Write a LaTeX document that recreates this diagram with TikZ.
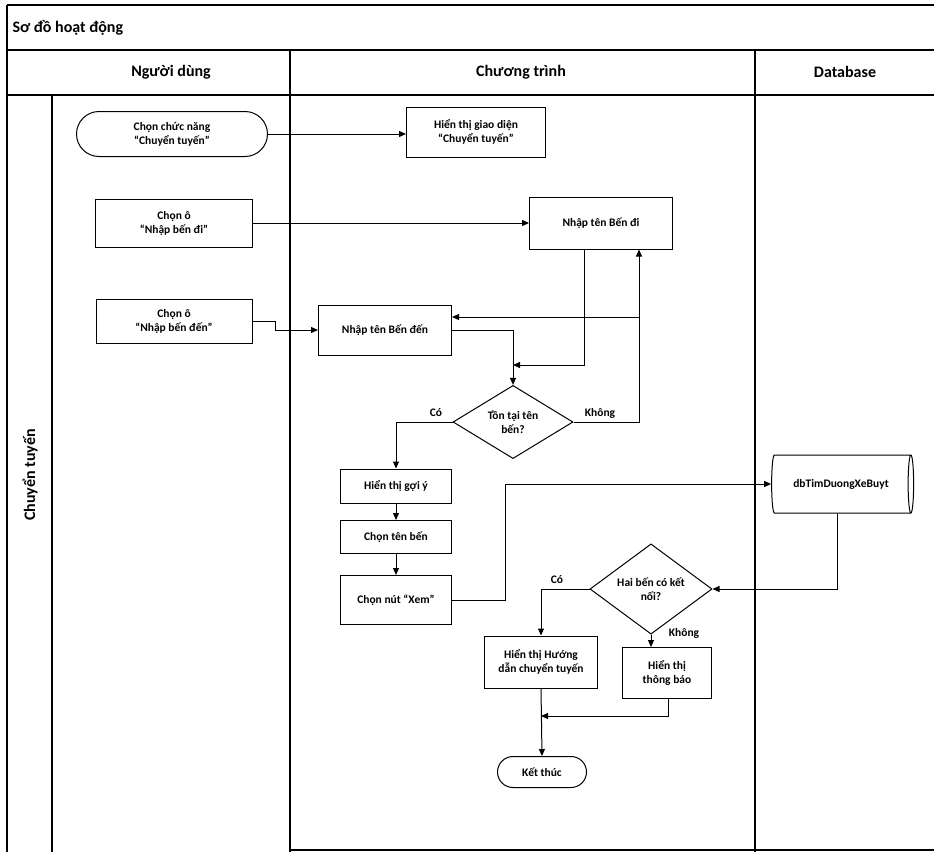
\documentclass[tikz,border=0pt]{standalone}
\usepackage{fontspec}
\setmainfont{Carlito}
\usetikzlibrary{arrows.meta,shapes.geometric,shapes.misc}
\begin{document}
\begin{tikzpicture}[x=1pt,y=-1pt,
  frame/.style={line width=1.1pt},
  nfont/.style={font=\bfseries\fontsize{11.5}{14}\selectfont},
  box/.style={draw,line width=1pt,rectangle,align=center,inner sep=0pt,nfont},
  term/.style={draw,line width=1pt,rounded rectangle,align=center,inner sep=0pt,nfont},
  dec/.style={draw,line width=1pt,diamond,align=center,inner sep=0pt,nfont},
  db/.style={draw,line width=1pt,cylinder,shape aspect=0.55,align=center,inner sep=0pt,nfont},
  arr/.style={line width=1pt,-{Triangle[length=7pt,width=6pt]}},
  lbl/.style={font=\bfseries\fontsize{11.5}{13}\selectfont},
  head/.style={font=\bfseries\fontsize{16}{19}\selectfont}]
\useasboundingbox (0,0) rectangle (934,852);
% frame
\draw[frame] (7,5) -- (934,5);
\draw[frame] (7,5) -- (7,852);
\draw[frame] (7,50) -- (934,50);
\draw[frame] (7,95) -- (934,95);
\draw[frame] (52,95) -- (52,852);
\draw[frame] (290,50) -- (290,852);
\draw[frame] (755,50) -- (755,852);
\draw[frame] (290,850) -- (934,850);
\node[head,anchor=west] (title) at (9,28) {Sơ đồ hoạt động};
\node[head] (h1) at (171,72) {Người dùng};
\node[head] (h2) at (521,72) {Chương trình};
\node[head] (h3) at (845,72) {Database};
\node[head,rotate=90] (lane) at (30,475) {Chuyển tuyến};
% nodes
\node[term,minimum width=191,minimum height=45] (n1) at (172,134) {Chọn chức năng\\“Chuyển tuyến”};
\node[box,minimum width=139,minimum height=50] (n2) at (476,132) {Hiển thị giao diện\\“Chuyển tuyến”};
\node[box,minimum width=157,minimum height=48] (n3) at (174,223) {Chọn ô\\“Nhập bến đi”};
\node[box,minimum width=143,minimum height=52] (n4) at (601,223) {Nhập tên Bến đi};
\node[box,minimum width=156,minimum height=44] (n5) at (174,321) {Chọn ô\\“Nhập bến đến”};
\node[box,minimum width=133,minimum height=50] (n6) at (385,330) {Nhập tên Bến đến};
\node[dec,minimum width=120,minimum height=70] (d1) at (513,422) {Tồn tại tên\\bến?};
\node[box,minimum width=111,minimum height=34] (n8) at (396,486) {Hiển thị gợi ý};
\node[box,minimum width=111,minimum height=33] (n9) at (396,537) {Chọn tên bến};
\node[box,minimum width=111,minimum height=49] (n10) at (396,600) {Chọn nút “Xem”};
\node[db,minimum width=58,minimum height=142] (dbt) at (841,484) {dbTimDuongXeBuyt};
\node[dec,minimum width=122,minimum height=67] (d2) at (651,589) {Hai bến có kết\\nối?};
\node[box,minimum width=113,minimum height=52] (n13) at (541,662) {Hiển thị Hướng\\dẫn chuyển tuyến};
\node[box,minimum width=89,minimum height=51] (n14) at (667,673) {Hiển thị\\thông báo};
\node[term,minimum width=89,minimum height=31] (nend) at (542,772) {Kết thúc};
% junctions
\coordinate (j1) at (513,365);
\coordinate (j2) at (639,317);
\coordinate (j3) at (541,716);
% connectors
\draw[arr] (n1.east) -- (n1.east -| n2.west);
\draw[arr] (n3.east) -- (n3.east -| n4.west);
\draw[arr] (n5.east) -- ++(23,0) |- (n6.west);
\draw[arr] ([xshift=-17pt]n4.south) |- (j1);
\draw[arr] (n6.east) -| (d1.north);
\draw[arr] (d1.east) -| ([xshift=38pt]n4.south);
\draw[arr] (j2) -- (j2 -| n6.east);
\draw[arr] (d1.west) -| (n8.north);
\draw[arr] (n8.south) -- (n9.north);
\draw[arr] (n9.south) -- (n10.north);
\draw[arr] (n10.east) -- ++(53,0) |- (dbt.west);
\draw[arr] ([xshift=-4pt]dbt.south) |- (d2.east);
\draw[arr] (d2.west) -| (n13.north);
\draw[arr] (d2.south) -- (d2.south |- n14.north);
\draw[arr] ([xshift=1pt]n14.south) |- (j3);
\draw[arr] (n13.south) -- (nend.north);
% labels
\node[lbl] (lk1) at (600,413) {Không};
\node[lbl] (lc1) at (436,413) {Có};
\node[lbl] (lc2) at (557,580) {Có};
\node[lbl] (lk2) at (684,633) {Không};
\end{tikzpicture}
\end{document}
